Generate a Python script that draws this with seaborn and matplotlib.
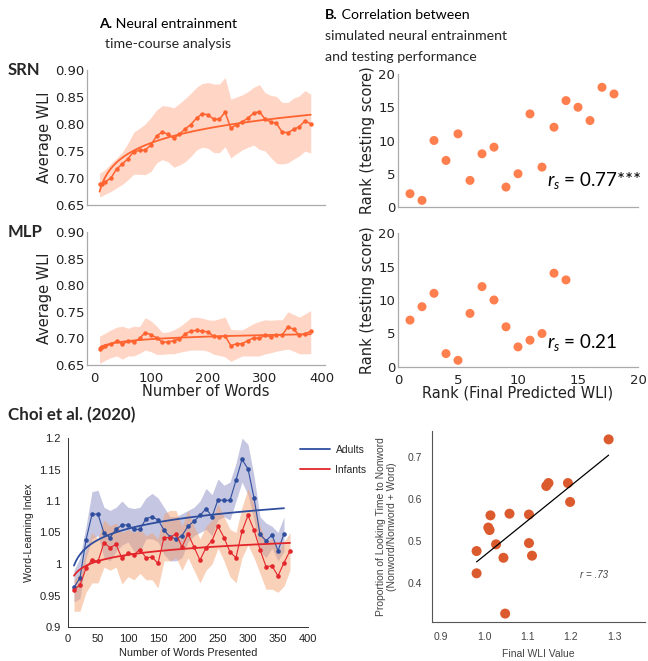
import numpy as np
import pandas as pd
import matplotlib
matplotlib.use("Agg")
import matplotlib.pyplot as plt
from matplotlib.lines import Line2D
import seaborn as sns

# ---------------- data ----------------
sim_words = [10, 15, 20, 30, 40, 50, 60, 70, 80, 90, 100, 110, 120, 130, 140, 150,
             160, 170, 180, 190, 200, 210, 220, 230, 240, 250, 260, 270, 280, 290,
             300, 310, 320, 330, 340, 350, 360, 370, 380]
srn_mean = [0.688, 0.689, 0.693, 0.700, 0.717, 0.726, 0.736, 0.749, 0.751, 0.752,
            0.761, 0.778, 0.785, 0.781, 0.774, 0.781, 0.791, 0.799, 0.811, 0.819,
            0.817, 0.809, 0.809, 0.822, 0.792, 0.799, 0.804, 0.811, 0.820, 0.823,
            0.809, 0.804, 0.801, 0.785, 0.784, 0.790, 0.795, 0.806, 0.800]
srn_upper = [0.709, 0.712, 0.716, 0.727, 0.737, 0.748, 0.765, 0.785, 0.792, 0.800,
             0.812, 0.826, 0.834, 0.833, 0.830, 0.838, 0.847, 0.857, 0.868, 0.875,
             0.877, 0.874, 0.874, 0.886, 0.846, 0.850, 0.854, 0.860, 0.868, 0.873,
             0.858, 0.853, 0.851, 0.840, 0.840, 0.848, 0.852, 0.862, 0.855]
srn_lower = [0.665, 0.667, 0.670, 0.675, 0.682, 0.688, 0.697, 0.707, 0.707, 0.706,
             0.712, 0.728, 0.734, 0.730, 0.720, 0.724, 0.730, 0.740, 0.752, 0.757,
             0.755, 0.747, 0.747, 0.758, 0.737, 0.745, 0.752, 0.757, 0.761, 0.753,
             0.750, 0.738, 0.727, 0.726, 0.728, 0.735, 0.741, 0.750, 0.746]
mlp_mean = [0.681, 0.684, 0.686, 0.689, 0.695, 0.689, 0.695, 0.693, 0.700, 0.711,
            0.707, 0.701, 0.693, 0.693, 0.696, 0.699, 0.708, 0.714, 0.715, 0.714,
            0.712, 0.704, 0.703, 0.705, 0.686, 0.690, 0.690, 0.696, 0.701, 0.700,
            0.706, 0.703, 0.707, 0.706, 0.722, 0.717, 0.706, 0.709, 0.713]
mlp_upper = [0.704, 0.707, 0.710, 0.716, 0.721, 0.723, 0.719, 0.723, 0.722, 0.739,
             0.733, 0.723, 0.711, 0.712, 0.716, 0.722, 0.730, 0.739, 0.740, 0.738,
             0.735, 0.734, 0.737, 0.740, 0.717, 0.716, 0.716, 0.722, 0.728, 0.732,
             0.735, 0.734, 0.735, 0.735, 0.750, 0.745, 0.740, 0.746, 0.752]
mlp_lower = [0.653, 0.656, 0.659, 0.664, 0.667, 0.661, 0.667, 0.667, 0.672, 0.678,
             0.675, 0.670, 0.670, 0.671, 0.671, 0.674, 0.676, 0.678, 0.678, 0.678,
             0.676, 0.670, 0.668, 0.665, 0.657, 0.662, 0.667, 0.667, 0.667, 0.667,
             0.671, 0.673, 0.676, 0.678, 0.680, 0.676, 0.671, 0.671, 0.671]

# rank correlations (panel B)
srn_rank_wli = [1, 2, 3, 4, 5, 6, 7, 8, 9, 10, 11, 12, 13, 14, 15, 16, 17, 18]
srn_rank_test = [2, 1, 10, 7, 11, 4, 8, 9, 3, 5, 14, 6, 12, 16, 15, 13, 18, 17]
mlp_rank_wli = [1, 2, 3, 4, 5, 6, 7, 8, 9, 10, 11, 12, 13, 14]
mlp_rank_test = [7, 9, 11, 2, 1, 8, 12, 10, 6, 3, 4, 5, 14, 13]

# Choi et al. (2020) time course
choi_words_adults = [10, 20, 30, 40, 50, 60, 70, 80, 90, 100, 110, 120, 130, 140, 150,
                     160, 170, 180, 190, 200, 210, 220, 230, 240, 250, 260, 270, 280,
                     290, 300, 310, 320, 330, 340, 350, 360]
adults_mean = [0.963, 0.978, 1.038, 1.079, 1.079, 1.049, 1.042, 1.055, 1.062, 1.062,
               1.055, 1.055, 1.072, 1.075, 1.070, 1.054, 1.043, 1.040, 1.045, 1.060,
               1.068, 1.077, 1.088, 1.075, 1.102, 1.101, 1.101, 1.133, 1.166, 1.151,
               1.105, 1.047, 1.037, 1.046, 1.021, 1.048]
adults_upper = [0.990, 1.010, 1.060, 1.115, 1.117, 1.090, 1.085, 1.090, 1.100, 1.090,
                1.088, 1.090, 1.105, 1.112, 1.105, 1.090, 1.075, 1.075, 1.080, 1.085,
                1.090, 1.100, 1.120, 1.110, 1.135, 1.125, 1.130, 1.160, 1.200, 1.190,
                1.140, 1.075, 1.065, 1.060, 1.050, 1.075]
adults_lower = [0.940, 0.945, 1.010, 1.040, 1.045, 1.010, 1.005, 1.020, 1.030, 1.035,
                1.020, 1.020, 1.040, 1.040, 1.035, 1.015, 1.005, 1.005, 1.010, 1.035,
                1.045, 1.050, 1.055, 1.045, 1.070, 1.075, 1.070, 1.100, 1.130, 1.110,
                1.070, 1.020, 1.010, 1.025, 1.005, 1.020]
choi_words_infants = [10, 20, 30, 40, 50, 60, 70, 80, 90, 100, 110, 120, 130, 140, 150,
                      160, 170, 180, 190, 200, 210, 220, 230, 240, 250, 260, 270, 280,
                      290, 300, 310, 320, 330, 340, 350, 360, 370]
infants_mean = [0.959, 0.967, 0.993, 1.007, 1.004, 1.034, 1.026, 1.031, 1.009, 1.017,
                1.015, 1.023, 1.010, 1.011, 1.001, 1.042, 1.042, 1.048, 1.027, 1.048,
                1.027, 1.006, 1.026, 1.037, 1.060, 1.042, 1.019, 1.010, 1.052, 1.077,
                1.054, 1.023, 0.996, 0.997, 0.981, 1.002, 1.021]
infants_upper = [0.975, 0.985, 1.020, 1.050, 1.040, 1.070, 1.060, 1.065, 1.050, 1.055,
                 1.050, 1.055, 1.045, 1.050, 1.040, 1.080, 1.085, 1.085, 1.060, 1.085,
                 1.060, 1.040, 1.060, 1.070, 1.095, 1.075, 1.055, 1.050, 1.090, 1.120,
                 1.095, 1.060, 1.035, 1.040, 1.020, 1.035, 1.050]
infants_lower = [0.925, 0.925, 0.955, 0.970, 0.970, 0.995, 0.990, 0.995, 0.968, 0.980,
                 0.975, 0.985, 0.975, 0.975, 0.962, 1.005, 1.005, 1.010, 0.990, 1.010,
                 0.990, 0.970, 0.990, 1.000, 1.025, 1.005, 0.980, 0.970, 1.010, 1.030,
                 1.010, 0.985, 0.960, 0.960, 0.955, 0.965, 0.990]

# Choi et al. (2020) correlation
final_wli = [0.982, 0.982, 1.009, 1.012, 1.014, 1.027, 1.044, 1.048, 1.058, 1.103,
             1.103, 1.110, 1.143, 1.148, 1.193, 1.198, 1.287]
prop_nonword = [0.476, 0.423, 0.532, 0.526, 0.561, 0.492, 0.460, 0.327, 0.565, 0.563,
                0.495, 0.465, 0.631, 0.638, 0.638, 0.593, 0.742]

choi_ytick_vals = [0.9, 0.95, 1.0, 1.05, 1.1, 1.15, 1.2]
choi_ytick_labels = ["0.9", "0.95", "1", "1.05", "1.1", "1.15", "1.2"]
corr_xtick_vals = [0.9, 1.0, 1.1, 1.2, 1.3]
corr_xtick_labels = ["0.9", "1.0", "1.1", "1.2", "1.3"]
corr_ytick_vals = [0.4, 0.5, 0.6, 0.7]
corr_ytick_labels = ["0.4", "0.5", "0.6", "0.7"]

# ---------------- style ----------------
sns.set_theme(style="white")
plt.rcParams['font.family'] = ['DejaVu Sans']
plt.rcParams['axes.unicode_minus'] = False
plt.rcParams['mathtext.fontset'] = 'custom'
plt.rcParams['mathtext.rm'] = 'Lato'
plt.rcParams['mathtext.it'] = 'Lato:italic'

W, H = 648, 661
fig = plt.figure(figsize=(W / 100, H / 100), dpi=100)

def px_axes(l, t, r, b):
    return fig.add_axes([l / W, 1 - b / H, (r - l) / W, (b - t) / H])

ORANGE = "#FF6330"
BAND = "#FFD5C6"
DOT = "#FF7F4F"
GRAY_SPINE = "#AAAAAA"
TXT = "#222222"
TITLE_FONT = ['Lato', 'DejaVu Sans']
HELV = ['Liberation Sans', 'DejaVu Sans']


def style_top(ax):
    for s in ['top', 'right']:
        ax.spines[s].set_visible(False)
    for s in ['left', 'bottom']:
        ax.spines[s].set_color(GRAY_SPINE)
        ax.spines[s].set_linewidth(0.9)
    ax.tick_params(axis='both', labelsize=9.5, colors=TXT, length=3, width=0.8,
                   color=GRAY_SPINE, pad=2)
    ax.tick_params(axis='y', length=0)


def timecourse(ax, mean, lower, upper, show_xlabels):
    ax.fill_between(sim_words, lower, upper, color=BAND, linewidth=0)
    sns.lineplot(x=sim_words, y=mean, ax=ax, color=ORANGE, linewidth=1.1,
                 marker='o', markersize=3.2, markeredgewidth=0)
    logx = np.log(np.array(sim_words, dtype=float))
    b, a = np.polyfit(logx, np.array(mean), 1)
    grid = np.linspace(min(sim_words), max(sim_words), 300)
    sns.lineplot(x=grid, y=a + b * np.log(grid), ax=ax, color=ORANGE, linewidth=1.3)
    ax.set_xlim(-12, 405)
    ax.set_ylim(0.65, 0.90)
    ax.set_xticks([0, 100, 200, 300, 400])
    ax.set_yticks([0.65, 0.70, 0.75, 0.80, 0.85, 0.90])
    ax.set_yticklabels(["0.65", "0.70", "0.75", "0.80", "0.85", "0.90"])
    ax.set_ylabel("Average WLI", fontsize=10.5, color=TXT, labelpad=2)
    if show_xlabels:
        ax.set_xlabel("Number of Words", fontsize=10.5, color=TXT, labelpad=-1)
    else:
        ax.set_xticklabels([])
        ax.set_xlabel("")
    style_top(ax)


def rankplot(ax, xs, ys, label, ypos):
    sns.scatterplot(x=xs, y=ys, ax=ax, color=DOT, s=42, edgecolor='none')
    ax.set_xlim(0, 20)
    ax.set_ylim(0, 20)
    ax.set_xticks([0, 5, 10, 15, 20])
    ax.set_yticks([0, 5, 10, 15, 20])
    ax.set_ylabel("Rank (testing score)", fontsize=10.5, color=TXT, labelpad=2)
    ax.text(0.62, ypos, label, transform=ax.transAxes, fontsize=13.5,
            family=TITLE_FONT, color='black', va='center', ha='left')
    style_top(ax)


# ---- Panel A ----
axA1 = px_axes(87, 70, 325, 205)
timecourse(axA1, srn_mean, srn_lower, srn_upper, False)
axA2 = px_axes(87, 232, 325, 365)
timecourse(axA2, mlp_mean, mlp_lower, mlp_upper, True)

# ---- Panel B ----
axB1 = px_axes(398, 74, 638, 207)
rankplot(axB1, srn_rank_wli, srn_rank_test, r"$r_s$ = 0.77***", 0.20)
axB1.set_xticklabels([])
axB2 = px_axes(398, 233, 638, 367)
rankplot(axB2, mlp_rank_wli, mlp_rank_test, r"$r_s$ = 0.21", 0.185)
axB2.set_xlabel("Rank (Final Predicted WLI)", fontsize=10.5, color=TXT, labelpad=-1)

# ---- Panel C1: Choi time course ----
BLUE = "#2F4E9E"
RED = "#E3262B"
axC1 = px_axes(68, 438, 308, 627)
axC1.fill_between(choi_words_adults, adults_lower, adults_upper, color="#8C8FC4",
                  alpha=0.5, linewidth=0)
axC1.fill_between(choi_words_infants, infants_lower, infants_upper, color="#F4A273",
                  alpha=0.5, linewidth=0)
sns.lineplot(x=choi_words_adults, y=adults_mean, ax=axC1, color=BLUE, linewidth=0.8,
             marker='o', markersize=3.3, markeredgewidth=0)
sns.lineplot(x=choi_words_infants, y=infants_mean, ax=axC1, color=RED, linewidth=0.8,
             marker='o', markersize=3.3, markeredgewidth=0)
for xs, ys, col in [(choi_words_adults, adults_mean, BLUE),
                    (choi_words_infants, infants_mean, RED)]:
    lx = np.log(np.array(xs, dtype=float))
    b, a = np.polyfit(lx, np.array(ys), 1)
    g = np.linspace(min(xs), max(xs), 300)
    sns.lineplot(x=g, y=a + b * np.log(g), ax=axC1, color=col, linewidth=1.3)
axC1.set_xlim(0, 400)
axC1.set_ylim(0.9, 1.2)
axC1.set_xticks([0, 50, 100, 150, 200, 250, 300, 350, 400])
axC1.set_yticks(choi_ytick_vals)
axC1.set_yticklabels(choi_ytick_labels)
for s in ['top', 'right']:
    axC1.spines[s].set_visible(False)
for s in ['left', 'bottom']:
    axC1.spines[s].set_color('#333333')
    axC1.spines[s].set_linewidth(0.7)
axC1.tick_params(axis='both', direction='in', length=3, width=0.6, color='#333333',
                 labelsize=8, labelcolor='#222222')
axC1.tick_params(axis='x', pad=5)
axC1.tick_params(axis='y', pad=5)
for lab in axC1.get_xticklabels() + axC1.get_yticklabels():
    lab.set_family(HELV)
axC1.set_xlabel("Number of Words Presented", fontsize=7.8, family=HELV,
                color='#222222', labelpad=3)
axC1.set_ylabel("Word-Learning Index", fontsize=7.6, family=HELV,
                color='#222222', labelpad=4)
handles = [Line2D([], [], color=BLUE, linewidth=1.3), Line2D([], [], color=RED, linewidth=1.3)]
axC1.legend(handles, ["Adults", "Infants"], loc='upper left', bbox_to_anchor=(0.967, 0.965),
            frameon=False, borderaxespad=0, borderpad=0, handlelength=2.9,
            handletextpad=0.5, labelspacing=1.0, prop={'family': HELV, 'size': 7.5})

# ---- Panel C2: Choi correlation ----
axC2 = px_axes(432, 431, 645, 622)
sns.scatterplot(x=final_wli, y=prop_nonword, ax=axC2, color="#DB5B2E", s=52,
                edgecolor='none')
b, a = np.polyfit(np.array(final_wli), np.array(prop_nonword), 1)
gx = np.linspace(min(final_wli), max(final_wli), 50)
sns.lineplot(x=gx, y=a + b * gx, ax=axC2, color='black', linewidth=0.9)
axC2.set_xlim(0.879, 1.371)
axC2.set_ylim(0.307, 0.762)
axC2.set_xticks(corr_xtick_vals)
axC2.set_xticklabels(corr_xtick_labels)
axC2.set_yticks(corr_ytick_vals)
axC2.set_yticklabels(corr_ytick_labels)
for s in ['top', 'right']:
    axC2.spines[s].set_visible(False)
for s in ['left', 'bottom']:
    axC2.spines[s].set_color('#555555')
    axC2.spines[s].set_linewidth(0.8)
axC2.tick_params(axis='both', length=0, labelsize=7.5, labelcolor='#444444', pad=7)
for lab in axC2.get_xticklabels() + axC2.get_yticklabels():
    lab.set_family(HELV)
axC2.set_xlabel("Final WLI Value", fontsize=7.5, family=HELV, color='#444444',
                labelpad=5)
axC2.set_ylabel("Proportion of Looking Time to Nonword\n(Nonword/Nonword + Word)",
                fontsize=7.5, family=HELV, color='#444444', labelpad=8,
                linespacing=1.15)
axC2.text(1.22, 0.42, "r = .73", fontsize=7, family=HELV, color='#444444',
          va='center', ha='left', style='italic')

# ---------------- titles ----------------
renderer = fig.canvas.get_renderer()


def rich_line(x_px, y_px, bold, rest, size, ha='left'):
    tb = fig.text(0, 0, bold, fontweight='bold', fontsize=size, family=TITLE_FONT,
                  va='baseline', color='black')
    tr = fig.text(0, 0, rest, fontsize=size, family=TITLE_FONT, va='baseline',
                  color='black')
    wb = tb.get_window_extent(renderer).width
    wr = tr.get_window_extent(renderer).width
    x0 = x_px - (wb + wr) / 2 if ha == 'center' else x_px
    tb.set_position((x0 / W, 1 - y_px / H))
    tr.set_position(((x0 + wb) / W, 1 - y_px / H))


TS = 10.2
rich_line(168, 27.5, "A.", " Neural entrainment", TS, ha='center')
fig.text(168 / W, 1 - 48 / H, "time-course analysis", fontsize=TS, family=TITLE_FONT,
         ha='center', va='baseline')
rich_line(325, 19, "B.", " Correlation between", TS)
fig.text(325 / W, 1 - 40.5 / H, "simulated neural entrainment", fontsize=TS,
         family=TITLE_FONT, ha='left', va='baseline')
fig.text(325 / W, 1 - 61 / H, "and testing performance", fontsize=TS,
         family=TITLE_FONT, ha='left', va='baseline')

fig.text(8 / W, 1 - 70 / H, "SRN", fontsize=12, fontweight='bold', family=TITLE_FONT,
         va='center', ha='left')
fig.text(8 / W, 1 - 232 / H, "MLP", fontsize=12, fontweight='bold', family=TITLE_FONT,
         va='center', ha='left')
fig.text(8 / W, 1 - 415 / H, "Choi et al. (2020)", fontsize=12.2, fontweight='bold',
         family=TITLE_FONT, va='center', ha='left')

fig.savefig("out.png", dpi=100)
